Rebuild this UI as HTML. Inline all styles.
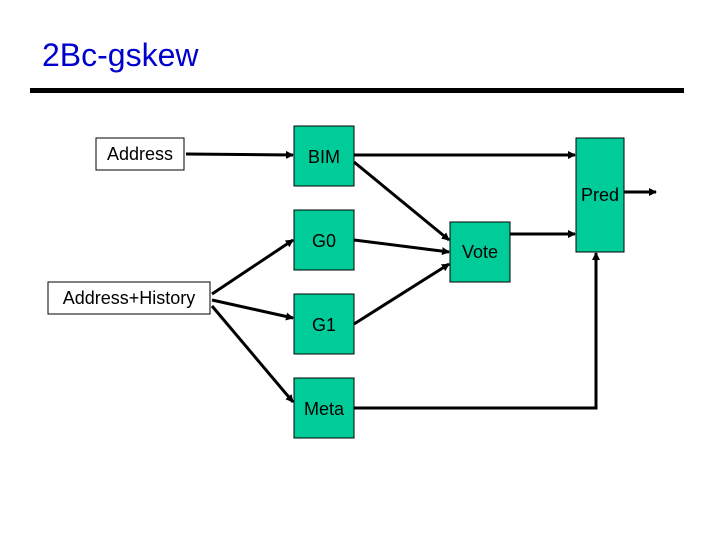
<!DOCTYPE html>
<html><head><style>
body{margin:0;background:#fff;}
svg{display:block;}
text{font-family:"Liberation Sans",sans-serif;}
</style></head><body>
<svg width="720" height="540" viewBox="0 0 720 540">
<defs><marker id="a" markerWidth="8" markerHeight="8" refX="7" refY="4" orient="auto" markerUnits="userSpaceOnUse"><path d="M0,0 L8,4 L0,8 z" fill="#000"/></marker></defs>
<text x="42" y="66" font-size="32" fill="#0000cc">2Bc-gskew</text>
<rect x="30" y="88" width="654" height="5" fill="#000"/>
<g fill="#00cc99" stroke="#000" stroke-width="1">
<rect x="294" y="126" width="60" height="60"/>
<rect x="294" y="210" width="60" height="60"/>
<rect x="294" y="294" width="60" height="60"/>
<rect x="294" y="378" width="60" height="60"/>
<rect x="450" y="222" width="60" height="60"/>
<rect x="576" y="138" width="48" height="114"/>
</g>
<g fill="#fff" stroke="#000" stroke-width="1">
<rect x="96" y="138" width="88" height="32"/>
<rect x="48" y="282" width="162" height="32"/>
</g>
<g stroke="#000" stroke-width="3" fill="none" marker-end="url(#a)">
<line x1="186" y1="154" x2="293" y2="155"/>
<line x1="354" y1="155" x2="575" y2="155"/>
<line x1="624" y1="192" x2="656" y2="192"/>
<line x1="510" y1="234" x2="575" y2="234"/>
<line x1="354" y1="162" x2="449" y2="240"/>
<line x1="354" y1="240" x2="449" y2="252"/>
<line x1="354" y1="324" x2="449" y2="264"/>
<line x1="212" y1="294" x2="293" y2="240"/>
<line x1="212" y1="300" x2="293" y2="318"/>
<line x1="212" y1="306" x2="293" y2="402"/>
<polyline points="354,408 596,408 596,253"/>
</g>
<g font-size="18" fill="#000" text-anchor="middle">
<text x="140" y="160">Address</text>
<text x="129" y="304">Address+History</text>
<text x="324" y="163">BIM</text>
<text x="324" y="247">G0</text>
<text x="324" y="331">G1</text>
<text x="324" y="415">Meta</text>
<text x="480" y="258">Vote</text>
<text x="600" y="201">Pred</text>
</g>
</svg>
</body></html>
